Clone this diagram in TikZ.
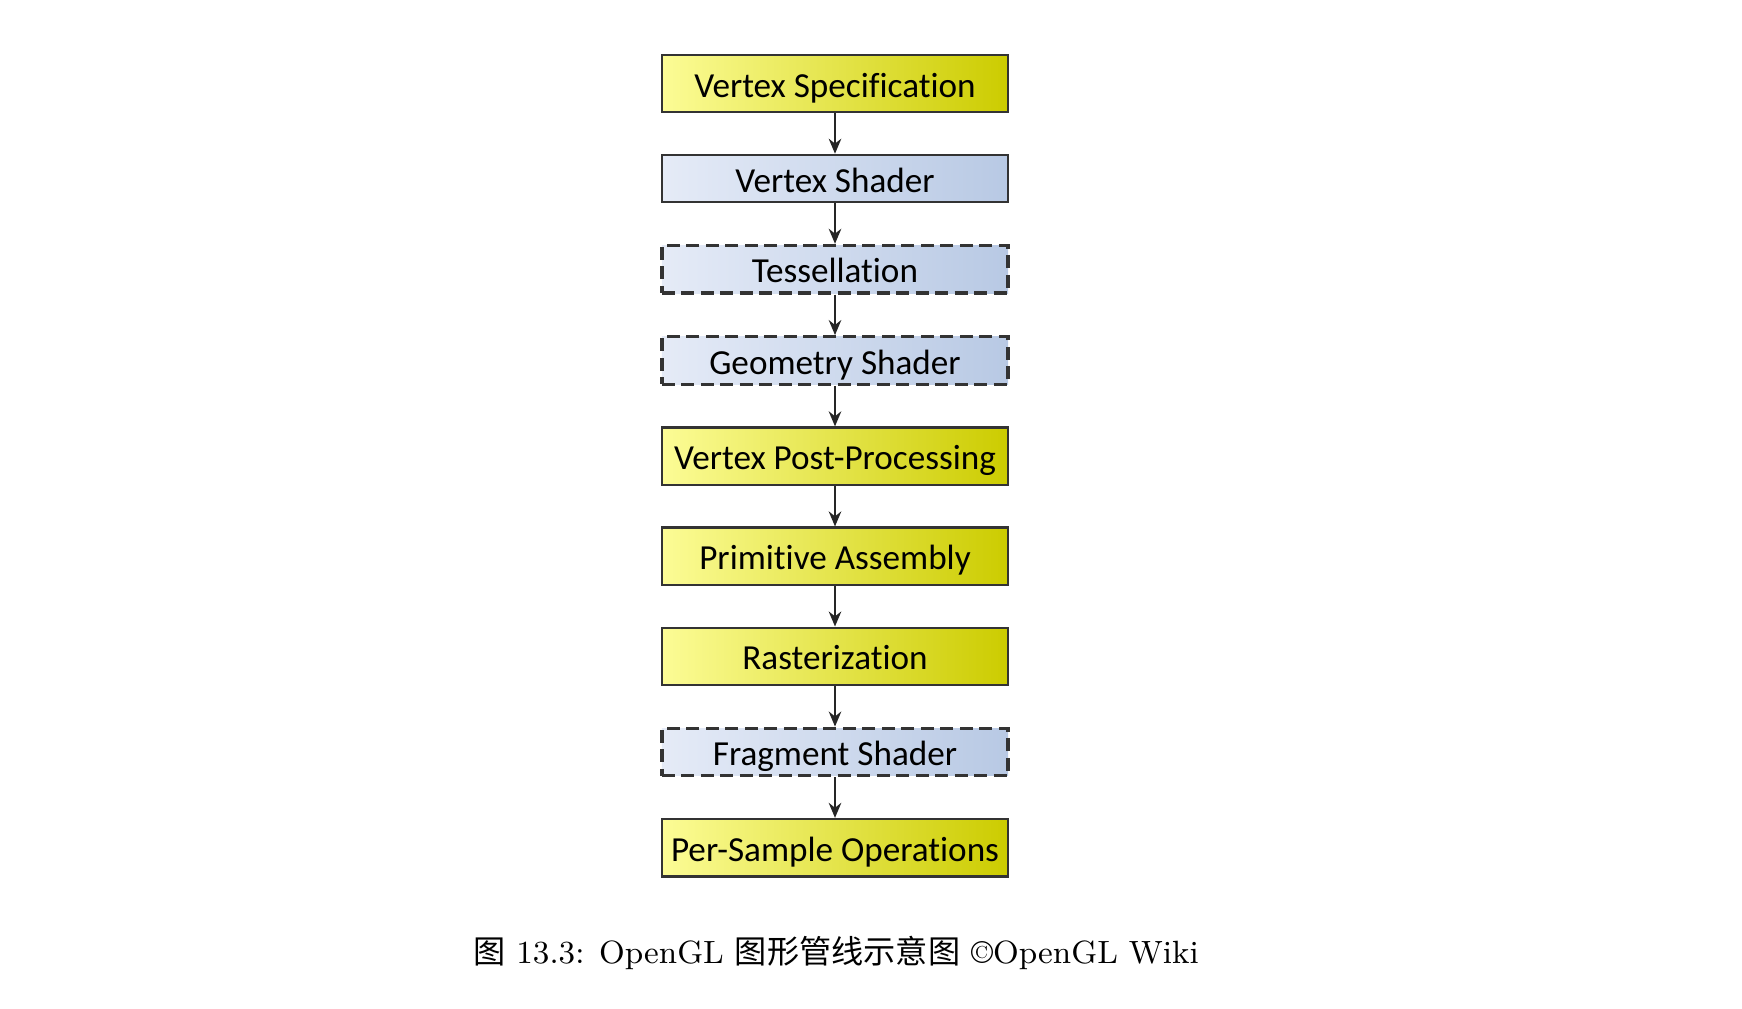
\documentclass[tikz,border=0pt]{standalone}
\usepackage{fontspec}
\setsansfont{Carlito}[Ligatures=NoCommon]
\newfontfamily\cjk{Noto Sans CJK SC}
\usetikzlibrary{arrows.meta, positioning}
\definecolor{glYellowL}{RGB}{252,252,150}
\definecolor{glYellowR}{RGB}{204,204,0}
\definecolor{glBlueL}{RGB}{229,235,247}
\definecolor{glBlueR}{RGB}{184,201,228}

\begin{document}
\begin{tikzpicture}[
  x=0.01cm, y=-0.01cm,
  font=\sffamily\fontsize{10}{12}\selectfont,
  node distance=4.04mm,
  fixed/.style={
    rectangle, draw=black!80, line width=0.6pt,
    left color=glYellowL, right color=glYellowR,
    minimum width=34.6mm, minimum height=5.75mm, inner sep=0pt,
    text height=7.7pt, text depth=0pt
  },
  shader/.style={fixed, left color=glBlueL, right color=glBlueR, minimum height=4.75mm},
  optional/.style={shader, dash pattern=on 1.3mm off 0.65mm, line width=0.95pt},
  flow/.style={-{Stealth[length=1.5mm, width=1.25mm]}, line width=0.65pt, draw=black!85},
  caption/.style={font=\rmfamily\fontsize{9.15}{12}\selectfont},
]
\useasboundingbox (0,0) rectangle (1742,1009);

% --- OpenGL pipeline stages ------------------------------------------------
\node[fixed]                          (spec)    at (835,83.5) {Vertex Specification};
\node[shader,   below=of spec]        (vshader) {Vertex Shader};
\node[optional, below=of vshader]     (tess)    {Tessellation};
\node[optional, below=of tess]        (gshader) {Geometry Shader};
\node[fixed,    below=of gshader]     (post)    {Vertex Post-Processing};
\node[fixed,    below=of post]        (prim)    {Primitive Assembly};
\node[fixed,    below=of prim]        (raster)  {Rasterization};
\node[optional, below=of raster]      (fshader) {Fragment Shader};
\node[fixed,    below=of fshader]     (sample)  {Per-Sample Operations};

% --- Arrows ----------------------------------------------------------------
\foreach \a/\b in {spec/vshader, vshader/tess, tess/gshader, gshader/post,
                   post/prim, prim/raster, raster/fshader, fshader/sample}
  \draw[flow] (\a) -- (\b);

% --- Caption ---------------------------------------------------------------
\node[caption] (cap) at (836,953) {{\cjk 图} 13.3: OpenGL {\cjk 图形管线示意图} \textcopyright OpenGL Wiki};

\end{tikzpicture}
\end{document}
